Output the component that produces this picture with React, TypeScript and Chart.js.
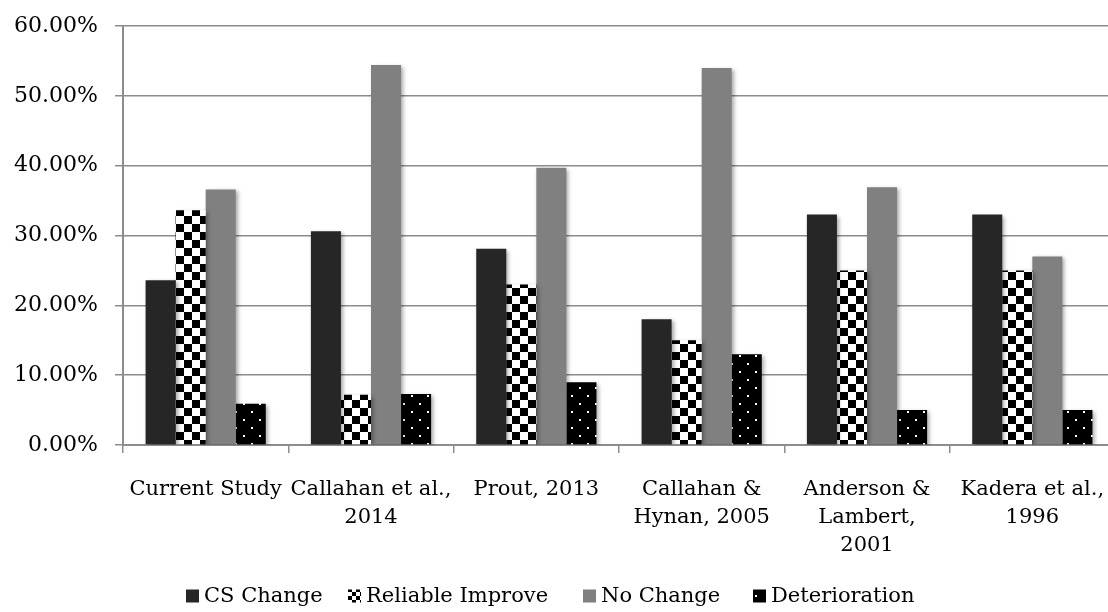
import { useEffect, useRef } from "react";
import { Chart, registerables } from "chart.js";

Chart.register(...registerables);

// Studies compared (multi-line category labels)
const studies: string[][] = [
  ["Current Study"],
  ["Callahan et al.,", "2014"],
  ["Prout, 2013"],
  ["Callahan &", "Hynan, 2005"],
  ["Anderson &", "Lambert,", "2001"],
  ["Kadera et al.,", "1996"],
];

// Percent of clients in each outcome group
const csChange = [23.6, 30.6, 28.1, 18.0, 33.0, 33.0];
const reliableImprove = [33.6, 7.2, 23.0, 15.0, 25.0, 25.0];
const noChange = [36.6, 54.4, 39.7, 54.0, 36.9, 27.0];
const deterioration = [5.9, 7.3, 9.0, 13.0, 5.0, 5.0];

const seriesNames = ["CS Change", "Reliable Improve", "No Change", "Deterioration"];
const yTicks = [0, 10, 20, 30, 40, 50, 60];

const FONT = "'DejaVu Serif', serif";
const AXIS_GREY = "#8c8c8c";

// Legend geometry
const LEGEND_BOX_X = [186, 348, 583, 753];
const LEGEND_Y = 596;
const LEGEND_BOX = 13;

function makeTile(size: number, paint: (g: CanvasRenderingContext2D) => void) {
  const c = document.createElement("canvas");
  c.width = size;
  c.height = size;
  const g = c.getContext("2d")!;
  paint(g);
  return g.createPattern(c, "repeat")!;
}

function checkerPattern(cell: number) {
  return makeTile(cell * 2, (g) => {
    g.fillStyle = "#ffffff";
    g.fillRect(0, 0, cell * 2, cell * 2);
    g.fillStyle = "#000000";
    g.fillRect(0, 0, cell, cell);
    g.fillRect(cell, cell, cell, cell);
  });
}

function dotPattern() {
  return makeTile(16, (g) => {
    g.fillStyle = "#000000";
    g.fillRect(0, 0, 16, 16);
    g.fillStyle = "#ffffff";
    g.fillRect(3, 3, 2, 2);
    g.fillRect(11, 11, 2, 2);
  });
}

// Soft drop shadow behind the bars
const barShadow = {
  id: "barShadow",
  beforeDatasetsDraw(chart: Chart) {
    const ctx = chart.ctx;
    ctx.save();
    ctx.shadowColor = "rgba(0,0,0,0.35)";
    ctx.shadowBlur = 4;
    ctx.shadowOffsetX = 2;
    ctx.shadowOffsetY = 2;
  },
  afterDatasetsDraw(chart: Chart) {
    chart.ctx.restore();
  },
};

// Bottom legend: small swatch followed closely by its label
function legendPlugin(boxFills: (string | CanvasPattern)[]) {
  return {
    id: "bottomLegend",
    afterDraw(chart: Chart) {
      const ctx = chart.ctx;
      ctx.save();
      ctx.font = `21px ${FONT}`;
      ctx.textBaseline = "middle";
      ctx.textAlign = "left";
      seriesNames.forEach((name, i) => {
        const x = LEGEND_BOX_X[i];
        ctx.fillStyle = boxFills[i];
        ctx.fillRect(x, LEGEND_Y - LEGEND_BOX / 2, LEGEND_BOX, LEGEND_BOX);
        ctx.fillStyle = "#000000";
        ctx.fillText(name, x + LEGEND_BOX + 5, LEGEND_Y + 1);
      });
      ctx.restore();
    },
  };
}

export default function App() {
  const canvasRef = useRef<HTMLCanvasElement | null>(null);

  useEffect(() => {
    if (!canvasRef.current) return;
    const checker = checkerPattern(8);
    const dots = dotPattern();
    const legendChecker = checkerPattern(4);

    const fills = ["#262626", checker, "#808080", dots];
    const series = [csChange, reliableImprove, noChange, deterioration];

    const chart = new Chart(canvasRef.current, {
      type: "bar",
      data: {
        labels: studies,
        datasets: series.map((values, i) => ({
          label: seriesNames[i],
          data: values,
          backgroundColor: fills[i],
          borderWidth: 0,
          barPercentage: 1,
          categoryPercentage: 0.727,
        })),
      },
      options: {
        animation: false,
        responsive: true,
        maintainAspectRatio: false,
        layout: { padding: { top: 26, right: 0, left: 0, bottom: 47 } },
        plugins: {
          legend: { display: false },
          tooltip: { enabled: false },
        },
        scales: {
          x: {
            offset: true,
            grid: {
              drawOnChartArea: false,
              drawTicks: true,
              tickLength: 8,
              color: AXIS_GREY,
              lineWidth: 1.5,
              offset: true,
            },
            border: { display: true, color: AXIS_GREY, width: 2 },
            ticks: {
              color: "#000000",
              font: { family: FONT, size: 21, lineHeight: 1.333 },
              padding: 23,
              autoSkip: false,
              maxRotation: 0,
              minRotation: 0,
            },
            afterFit(scale: any) {
              scale.height = 120;
              scale.paddingLeft = 0;
              scale.paddingRight = 0;
            },
          },
          y: {
            min: 0,
            max: 60,
            afterBuildTicks(scale: any) {
              scale.ticks = yTicks.map((v) => ({ value: v }));
            },
            grid: {
              color: AXIS_GREY,
              lineWidth: 1.5,
              tickLength: 8,
              drawTicks: true,
            },
            border: { display: true, color: AXIS_GREY, width: 2 },
            ticks: {
              color: "#000000",
              font: { family: FONT, size: 22 },
              padding: 17,
              callback: (v: any) => `${Number(v).toFixed(2)}%`,
            },
            afterFit(scale: any) {
              scale.width = 123;
              scale.paddingTop = 0;
              scale.paddingBottom = 0;
            },
          },
        },
      },
      plugins: [barShadow, legendPlugin(["#262626", legendChecker, "#808080", dots])],
    });

    return () => chart.destroy();
  }, []);

  // The plot runs slightly past the right edge of the 1108px frame
  return (
    <div
      style={{
        position: "fixed",
        left: 0,
        top: 0,
        width: 1108,
        height: 612,
        overflow: "hidden",
        background: "#ffffff",
      }}
    >
      <div style={{ position: "relative", width: 1115, height: 612 }}>
        <canvas ref={canvasRef} />
      </div>
    </div>
  );
}
